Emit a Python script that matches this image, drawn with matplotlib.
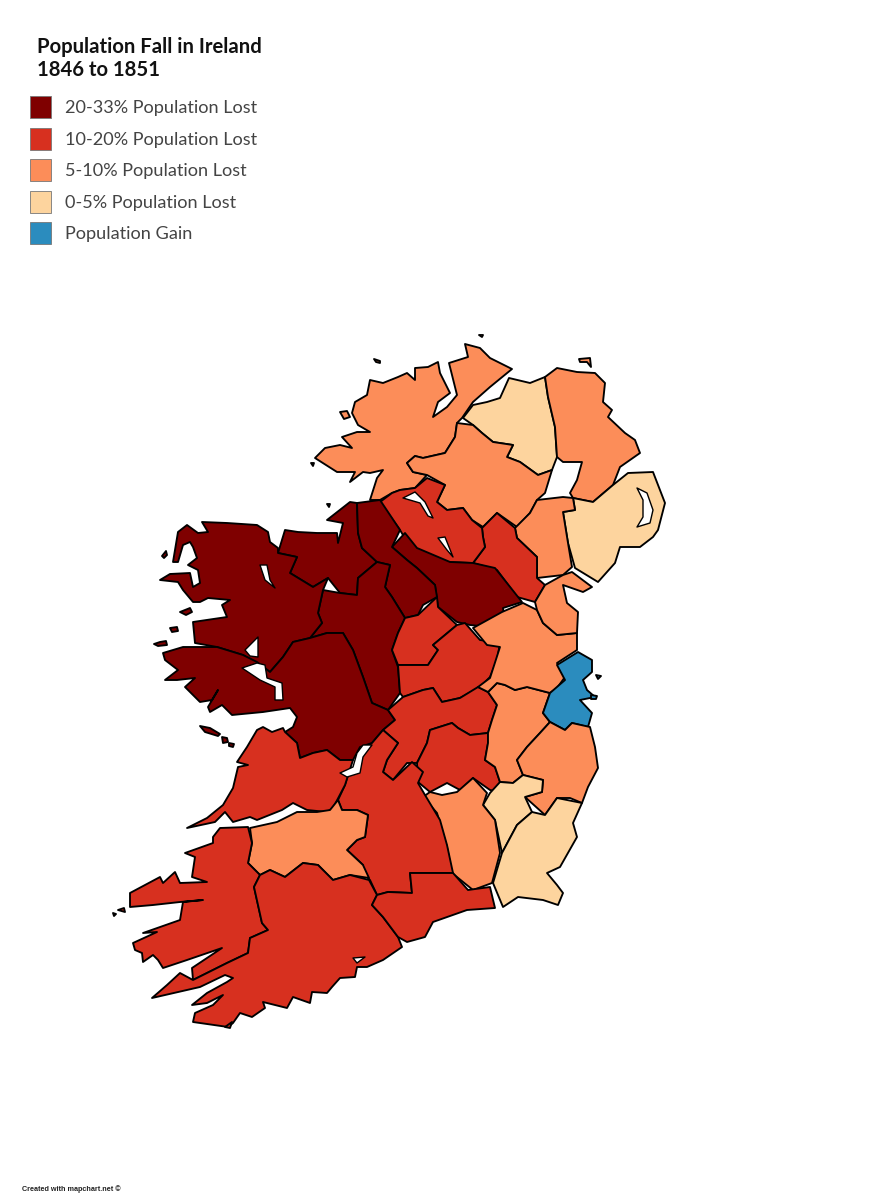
import matplotlib
matplotlib.use('Agg')
import matplotlib.pyplot as plt
from matplotlib.patches import Rectangle

title_lines = ['Population Fall in Ireland', '1846 to 1851']
legend_labels = ['20-33% Population Lost', '10-20% Population Lost', '5-10% Population Lost',
                 '0-5% Population Lost', 'Population Gain']
colors = ['#7f0000', '#d7301f', '#fc8d59', '#fdd49e', '#2b8cbe']
footer = 'Created with mapchart.net ©'

# county outlines (image pixels)
donegal = [(315,458),(325,448),(340,445),(352,448),(342,437),(357,432),(370,432),(358,425),(352,413),(355,402),(367,395),
           (370,380),(383,383),(398,377),(407,373),(415,380),(415,368),(428,367),(438,362),(440,373),(450,393),(438,402),
           (433,417),(447,407),(457,395),(449,363),(468,357),(465,344),(480,348),(490,358),(512,369),(490,387),(473,402),
           (462,418),(457,423),(455,437),(445,453),(423,458),(415,456),(407,463),(413,472),(427,475),(415,488),(400,490),
           (392,493),(380,500),(370,500),(377,478),(383,470),(370,473),(363,472),(350,482),(355,472),(337,472)]
derry = [(463,418),(473,405),(487,402),(500,398),(509,378),(530,383),(545,377),(548,397),(555,427),(557,457),(552,470),
         (538,475),(520,462),(507,457),(513,445),(493,442),(482,433),(473,425)]
antrim = [(545,377),(557,368),(577,372),(595,373),(605,383),(603,402),(612,410),(608,417),(625,433),(635,440),(640,453),
          (620,467),(613,485),(593,502),(573,498),(570,493),(577,480),(582,462),(563,462),(557,457),(555,427),(548,397)]
tyrone = [(457,423),(473,425),(482,433),(493,442),(513,445),(507,457),(520,462),(538,475),(552,470),(545,493),(537,500),
          (530,513),(517,527),(497,513),(483,527),(472,520),(463,508),(447,510),(437,502),(445,485),(427,475),(413,472),
          (407,463),(415,456),(423,458),(445,453),(455,437)]
down = [(563,512),(575,510),(573,498),(593,502),(613,485),(628,473),(653,472),(665,503),(658,530),(653,537),(640,547),
        (620,547),(615,563),(598,582),(575,568),(568,543)]
armagh = [(537,500),(563,497),(573,498),(575,510),(563,512),(568,543),(572,567),(563,575),(537,578),(537,557),(517,538),
          (515,528),(530,513)]
monaghan = [(482,528),(497,513),(515,528),(517,538),(537,557),(537,578),(545,585),(535,602),(517,597),(497,570),(473,563),
            (485,547),(483,537)]
fermanagh = [(415,488),(427,478),(445,485),(437,502),(447,510),(463,508),(472,520),(482,528),(483,537),(485,547),(473,563),
             (447,562),(410,547),(400,530),(380,502),(392,493),(400,490)]
cavan = [(392,547),(405,533),(417,548),(450,562),(473,563),(495,568),(522,602),(503,608),(505,625),(490,627),(470,625),
         (457,622),(438,607),(435,585),(417,568),(407,560)]
sligo = [(327,520),(350,502),(357,503),(358,533),(362,548),(377,562),(358,578),(357,595),(340,593),(328,578),(313,587),
         (290,573),(297,557),(278,553),(285,530),(298,532),(317,533),(337,533),(338,543),(343,523)]
leitrim = [(357,503),(380,500),(400,530),(392,547),(407,560),(417,568),(435,585),(437,597),(423,605),(418,615),(405,618),
           (392,597),(385,587),(390,565),(377,562),(362,548),(358,533)]
roscommon = [(377,562),(390,565),(385,587),(392,597),(405,618),(398,633),(392,650),(398,667),(400,693),(388,710),(372,703),
             (363,677),(353,650),(343,633),(327,633),(310,638),(322,623),(318,613),(323,590),(340,593),(357,595),(358,578)]
mayo = [(202,522),(227,523),(257,525),(268,532),(270,542),(278,548),(278,553),(297,557),(290,573),(313,587),(328,578),
        (323,590),(318,613),(322,623),(310,638),(293,642),(283,657),(270,672),(257,663),(243,655),(217,647),(195,643),
        (193,622),(227,617),(222,605),(230,600),(208,598),(200,602),(193,602),(183,590),(178,582),(160,580),(170,574),
        (190,573),(193,587),(200,583),(198,570),(188,565),(197,558),(193,547),(190,542),(183,545),(178,562),(173,562),
        (178,532),(187,525),(198,533),(208,532)]
galway = [(163,653),(183,647),(217,647),(243,655),(257,662),(270,672),(283,657),(293,642),(310,638),(327,633),(343,633),
          (353,650),(363,677),(372,703),(388,710),(395,720),(383,730),(372,743),(360,747),(353,760),(340,760),(327,750),
          (313,753),(300,758),(297,743),(285,732),(293,727),(297,717),(290,708),(263,712),(232,715),(222,705),(210,712),
          (208,707),(218,690),(212,700),(200,702),(185,687),(195,678),(177,680),(165,680),(178,670),(165,660)]
westmeath = [(405,618),(418,615),(437,597),(438,607),(457,625),(433,645),(438,650),(428,665),(417,665),(398,665),(392,650),
             (398,633)]
meath_west = [(398,665),(417,665),(428,665),(438,650),(433,645),(457,625),(465,623),(480,640),(500,643),(497,660),(490,677),
              (480,687),(460,698),(442,702),(433,688),(423,690),(403,697),(400,693)]
offaly = [(388,710),(403,697),(423,690),(433,688),(442,702),(460,698),(478,687),(488,692),(497,705),(492,720),(488,733),
          (470,735),(458,728),(452,723),(430,730),(427,743),(417,763),(407,763),(393,780),(383,772),(387,760),(398,743),
          (383,730),(395,720)]
laois = [(430,730),(452,723),(458,728),(470,735),(488,733),(488,743),(485,760),(495,767),(500,782),(500,792),(490,790),
         (473,778),(460,790),(447,783),(430,792),(418,782),(417,763),(427,743)]
kildare = [(488,692),(497,683),(505,685),(515,690),(527,687),(550,693),(543,713),(550,722),(540,733),(527,747),(517,760),
           (523,775),(513,783),(500,782),(495,767),(485,760),(488,743),(488,733),(492,720),(497,705)]
meath = [(473,628),(502,612),(523,603),(537,610),(543,623),(557,635),(577,633),(577,650),(557,663),(565,677),(557,688),
         (550,693),(527,687),(515,690),(505,685),(497,683),(488,692),(478,687),(490,678),(500,647),(487,645)]
louth = [(535,602),(545,585),(563,575),(572,572),(592,587),(583,592),(563,585),(567,603),(578,612),(577,633),(557,635),
         (543,623),(537,610)]
dublin = [(578,652),(592,660),(592,672),(583,680),(587,690),(595,697),(580,700),(592,713),(588,727),(572,723),(565,730),
          (550,722),(543,713),(550,693),(565,680),(557,665)]
wicklow = [(550,722),(565,730),(572,723),(590,727),(595,747),(598,768),(588,787),(582,803),(570,798),(557,798),(545,815),
           (525,797),(542,792),(543,780),(523,775),(517,760),(527,747),(540,733)]
carlow = [(513,783),(523,775),(543,780),(542,792),(525,797),(532,812),(517,825),(502,853),(495,820),(483,805),(490,793),
          (500,782)]
wexford = [(532,812),(545,815),(557,798),(582,803),(573,823),(577,837),(560,867),(547,873),(557,885),(563,893),(558,905),
           (543,900),(518,897),(503,907),(493,883),(502,853),(517,825)]
kilkenny = [(423,797),(430,792),(442,795),(457,792),(473,778),(487,793),(483,805),(495,820),(500,853),(492,883),(473,890),
            (452,873),(447,847),(437,813)]
tipperary = [(383,730),(398,743),(387,760),(383,772),(393,780),(412,762),(423,772),(418,783),(425,795),(440,820),(447,845),
             (453,873),(410,873),(412,893),(388,892),(377,895),(370,880),(360,870),(363,865),(347,850),(357,840),(365,837),
             (368,815),(357,810),(342,810),(338,800),(345,785),(348,775),(357,767),(360,750),(372,743)]
clare = [(187,828),(207,818),(223,805),(233,788),(238,767),(248,765),(237,762),(247,747),(257,730),(263,727),(272,732),
         (283,728),(285,732),(297,743),(300,758),(313,753),(327,750),(340,760),(353,760),(345,785),(333,808),(327,812),
         (307,810),(293,803),(282,810),(257,820),(250,817),(233,822),(225,812),(215,822)]
limerick = [(250,828),(277,822),(297,812),(317,812),(330,810),(338,800),(342,810),(357,810),(368,815),(365,837),(357,840),
            (347,850),(363,865),(369,878),(350,875),(333,880),(318,865),(303,863),(285,877),(270,870),(260,875),(248,863),
            (252,843)]
kerry = [(213,837),(220,828),(248,827),(252,843),(248,863),(260,875),(254,887),(262,923),(268,930),(250,938),(248,953),
         (227,963),(193,980),(192,968),(222,948),(187,960),(163,968),(158,960),(153,955),(143,962),(142,953),(135,950),
         (133,943),(157,932),(143,933),(180,920),(183,902),(203,900),(180,902),(153,905),(130,907),(130,893),(160,877),
         (163,883),(175,872),(180,883),(207,882),(192,877),(195,857),(185,853),(213,843)]
cork = [(254,887),(260,875),(270,870),(285,877),(303,863),(318,865),(333,880),(350,875),(369,880),(377,895),(372,905),
        (383,917),(398,937),(402,947),(383,960),(367,967),(357,967),(355,977),(340,978),(332,987),(327,993),(312,992),
        (310,1003),(293,997),(287,1008),(263,1002),(265,1008),(252,1017),(240,1013),(233,1023),(228,1027),(193,1022),
        (195,1013),(213,1005),(223,995),(207,1003),(192,1005),(207,993),(227,982),(233,978),(225,975),(200,987),(152,998),
        (167,985),(180,973),(193,980),(227,963),(248,953),(250,938),(268,930),(262,923)]
waterford = [(372,905),(377,895),(388,892),(412,893),(410,873),(453,873),(468,890),(490,887),(495,908),(467,910),(433,922),
             (425,937),(407,942),(398,937),(383,917)]

# each county with its class (index into colors)
counties = [(donegal,2),(derry,3),(antrim,2),(tyrone,2),(down,3),(armagh,2),(monaghan,1),(fermanagh,1),(cavan,0),
            (sligo,0),(leitrim,0),(roscommon,0),(mayo,0),(galway,0),(westmeath,1),(meath_west,1),(offaly,1),(laois,1),
            (kildare,2),(meath,2),(louth,2),(dublin,4),(wicklow,2),(carlow,3),(wexford,3),(kilkenny,2),(tipperary,1),
            (clare,1),(limerick,2),(kerry,1),(cork,1),(waterford,1)]

# lakes and inlets, drawn white over the counties
lakes = [[(403,498),(415,492),(425,502),(433,518),(428,516),(420,503)],
         [(438,538),(445,537),(453,557),(447,550)],
         [(260,565),(267,565),(270,580),(275,588),(265,580)],
         [(245,650),(258,637),(258,657),(250,656)],
         [(242,668),(257,663),(265,665),(267,678),(282,683),(283,700),(275,700),(275,687),(260,680)],
         [(637,488),(647,493),(653,510),(650,523),(637,527),(643,517),(643,500)],
         [(363,745),(372,745),(363,757),(360,773),(347,777),(340,773),(353,767),(357,753)],
         [(353,958),(365,957),(357,963)]]

# small islands: (outline, class)
islands = [([(200,726),(210,728),(220,734),(218,736),(205,732)],0),
           ([(222,737),(227,738),(228,742),(223,743)],0),
           ([(229,743),(234,744),(233,747),(229,746)],0),
           ([(180,612),(190,608),(192,612),(186,615)],0),
           ([(170,628),(177,627),(178,631),(172,632)],0),
           ([(154,644),(160,642),(166,641),(167,645),(158,646)],0),
           ([(162,556),(166,551),(167,555),(164,558)],0),
           ([(340,412),(347,411),(350,417),(344,419)],2),
           ([(374,359),(380,361),(380,363),(376,362)],2),
           ([(579,359),(590,358),(591,367),(587,362),(580,362)],2),
           ([(479,335),(483,335),(482,337)],2),
           ([(311,463),(314,463),(313,466)],2),
           ([(327,504),(330,504),(329,507)],0),
           ([(591,695),(597,696),(596,699),(591,699)],4),
           ([(596,675),(601,676),(598,679)],4),
           ([(125,912),(118,910),(124,908)],1),
           ([(113,913),(116,914),(114,916)],1),
           ([(225,1027),(232,1022),(230,1028)],1)]

fig = plt.figure(figsize=(8.94, 12), dpi=100)
ax = fig.add_axes([0, 0, 1, 1])
ax.set_xlim(0, 894)
ax.set_ylim(1200, 0)
ax.axis('off')

for outline, cls in counties + islands:
    xs, ys = zip(*outline)
    ax.fill(xs, ys, facecolor=colors[cls], edgecolor='black', linewidth=1.35, joinstyle='round')
for lake in lakes:
    xs, ys = zip(*lake)
    ax.fill(xs, ys, facecolor='white', edgecolor='black', linewidth=1.0, joinstyle='round')

for i, line in enumerate(title_lines):
    ax.text(37, 47 + i * 23, line, fontsize=14.6, fontweight='bold', family='Lato', color='#111111', va='center')

for i, (label, col) in enumerate(zip(legend_labels, colors)):
    y = 107 + i * 31.6
    ax.add_patch(Rectangle((29.5, y - 11), 21.5, 22, facecolor=col, edgecolor='#777777', linewidth=0.6))
    ax.text(65, y + 1, label, fontsize=13.1, family='Lato', fontweight='normal', color='#444444', va='center')

ax.text(22, 1189, footer, fontsize=5.2, fontweight='bold', family='Liberation Sans', color='#222222', va='center')

fig.savefig('out.png', dpi=100, facecolor='white')
